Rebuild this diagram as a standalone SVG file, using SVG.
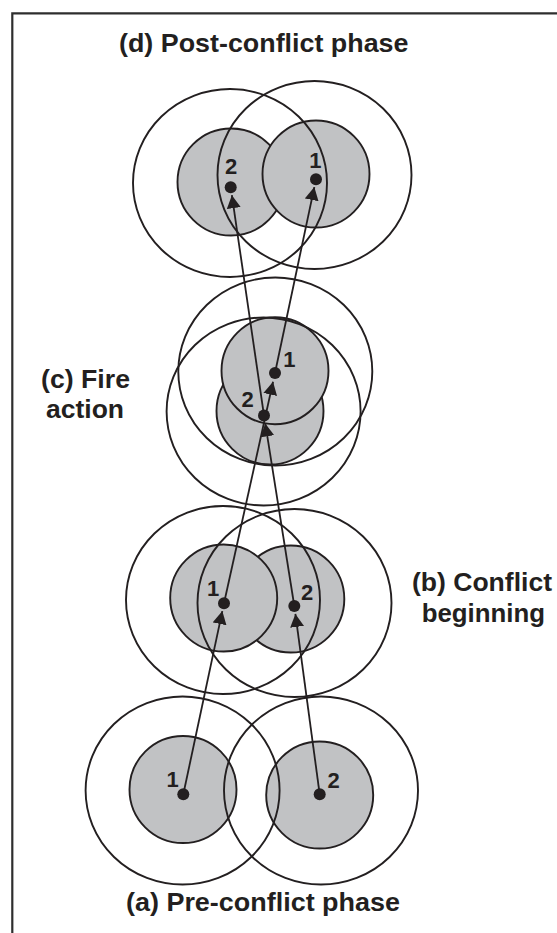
<svg xmlns="http://www.w3.org/2000/svg" width="557" height="933" viewBox="0 0 557 933">
  <style>
    .disc  { fill: #c1c2c4; stroke: #231f20; stroke-width: 1.9; }
    .range { fill: none; stroke: #231f20; stroke-width: 1.9; }
    .dot   { fill: #231f20; }
    .num   { font-family: "Liberation Sans", Arial, sans-serif; font-weight: bold; font-size: 22px; fill: #231f20; text-anchor: middle; }
    .phase { font-family: "Liberation Sans", Arial, sans-serif; font-weight: bold; font-size: 25px; fill: #231f20; }
    .path  { fill: none; stroke: #231f20; stroke-width: 1.8; marker-end: url(#head); }
    .frame { fill: none; stroke: #2e2e2e; stroke-width: 2.2; }
  </style>
  <defs>
    <marker id="head" markerUnits="userSpaceOnUse" markerWidth="15" markerHeight="15" refX="13" refY="7" orient="auto">
      <path d="M0,0 L13,7 L0,14 z" fill="#231f20"/>
    </marker>
  </defs>

  <rect width="557" height="933" fill="#ffffff"/>

  <!-- open frame: top and left edges only -->
  <path class="frame" d="M12.3,933 V13.3 H557"/>

  <!-- shaded footprints; agent 1 sits above agent 2 where they overlap -->
  <g id="footprints">
    <circle class="disc" id="disc-a-1" cx="183" cy="789.5" r="53.5"/>
    <circle class="disc" id="disc-a-2" cx="319.7" cy="795" r="53.5"/>
    <circle class="disc" id="disc-b-2" cx="290.8" cy="599" r="53.5"/>
    <circle class="disc" id="disc-b-1" cx="223.7" cy="598" r="53.5"/>
    <circle class="disc" id="disc-c-2" cx="270" cy="411" r="53.5"/>
    <circle class="disc" id="disc-c-1" cx="275" cy="370.7" r="53.5"/>
    <circle class="disc" id="disc-d-2" cx="231" cy="182" r="53.5"/>
    <circle class="disc" id="disc-d-1" cx="316" cy="174" r="53.5"/>
  </g>

  <!-- outer sensing ranges, stroked over the footprints -->
  <g id="ranges">
    <ellipse class="range" id="range-a-1" cx="182.6" cy="790.5" rx="97" ry="94"/>
    <ellipse class="range" id="range-a-2" cx="321" cy="790.5" rx="97" ry="94"/>
    <ellipse class="range" id="range-b-1" cx="223" cy="600" rx="97" ry="94"/>
    <ellipse class="range" id="range-b-2" cx="294.5" cy="603" rx="97" ry="94"/>
    <ellipse class="range" id="range-c-1" cx="275.3" cy="371.5" rx="97" ry="94"/>
    <ellipse class="range" id="range-c-2" cx="263.6" cy="411.5" rx="97" ry="94"/>
    <ellipse class="range" id="range-d-2" cx="230" cy="183" rx="97" ry="94"/>
    <ellipse class="range" id="range-d-1" cx="314.5" cy="175" rx="97" ry="94"/>
  </g>

  <!-- movement of each agent between phases -->
  <g id="connectors">
    <line class="path" x1="183.3" y1="794.3" x2="222.33" y2="611.12"/>
    <line class="path" x1="224" y1="603.3" x2="273.05" y2="381.8"/>
    <line class="path" x1="275" y1="373" x2="314.34" y2="187.1"/>
    <line class="path" x1="319.7" y1="794.3" x2="295.37" y2="613.93"/>
    <line class="path" x1="294.3" y1="606" x2="265.26" y2="423.4"/>
    <line class="path" x1="264" y1="415.5" x2="231.86" y2="195.2"/>
  </g>

  <!-- agent positions: centre point and number -->
  <g id="nodes">
    <g id="a-1">
      <circle class="dot" cx="183.3" cy="794.3" r="6"/>
      <text class="num" x="172.5" y="786.5">1</text>
    </g>
    <g id="a-2">
      <circle class="dot" cx="319.7" cy="794.3" r="6"/>
      <text class="num" x="333.6" y="787.8">2</text>
    </g>
    <g id="b-1">
      <circle class="dot" cx="224" cy="603.3" r="6"/>
      <text class="num" x="213.2" y="595.5">1</text>
    </g>
    <g id="b-2">
      <circle class="dot" cx="294.3" cy="606" r="6"/>
      <text class="num" x="307.2" y="599.5">2</text>
    </g>
    <g id="c-1">
      <circle class="dot" cx="275" cy="373" r="6"/>
      <text class="num" x="289.3" y="366.5">1</text>
    </g>
    <g id="c-2">
      <circle class="dot" cx="264" cy="415.5" r="6"/>
      <text class="num" x="247.5" y="407.2">2</text>
    </g>
    <g id="d-1">
      <circle class="dot" cx="316" cy="179.3" r="6"/>
      <text class="num" x="315.3" y="167.5">1</text>
    </g>
    <g id="d-2">
      <circle class="dot" cx="230.7" cy="187.3" r="6"/>
      <text class="num" x="231" y="173.5">2</text>
    </g>
  </g>

  <!-- phase captions -->
  <g id="captions">
    <text class="phase" x="119" y="52" textLength="289.5" lengthAdjust="spacingAndGlyphs">(d) Post-conflict phase</text>
    <text class="phase" x="41" y="388" textLength="89" lengthAdjust="spacingAndGlyphs">(c) Fire</text>
    <text class="phase" x="46" y="418" textLength="78" lengthAdjust="spacingAndGlyphs">action</text>
    <text class="phase" x="412" y="591" textLength="140" lengthAdjust="spacingAndGlyphs">(b) Conflict</text>
    <text class="phase" x="421.7" y="621.5" textLength="123.3" lengthAdjust="spacingAndGlyphs">beginning</text>
    <text class="phase" x="126" y="911" textLength="274" lengthAdjust="spacingAndGlyphs">(a) Pre-conflict phase</text>
  </g>
</svg>
